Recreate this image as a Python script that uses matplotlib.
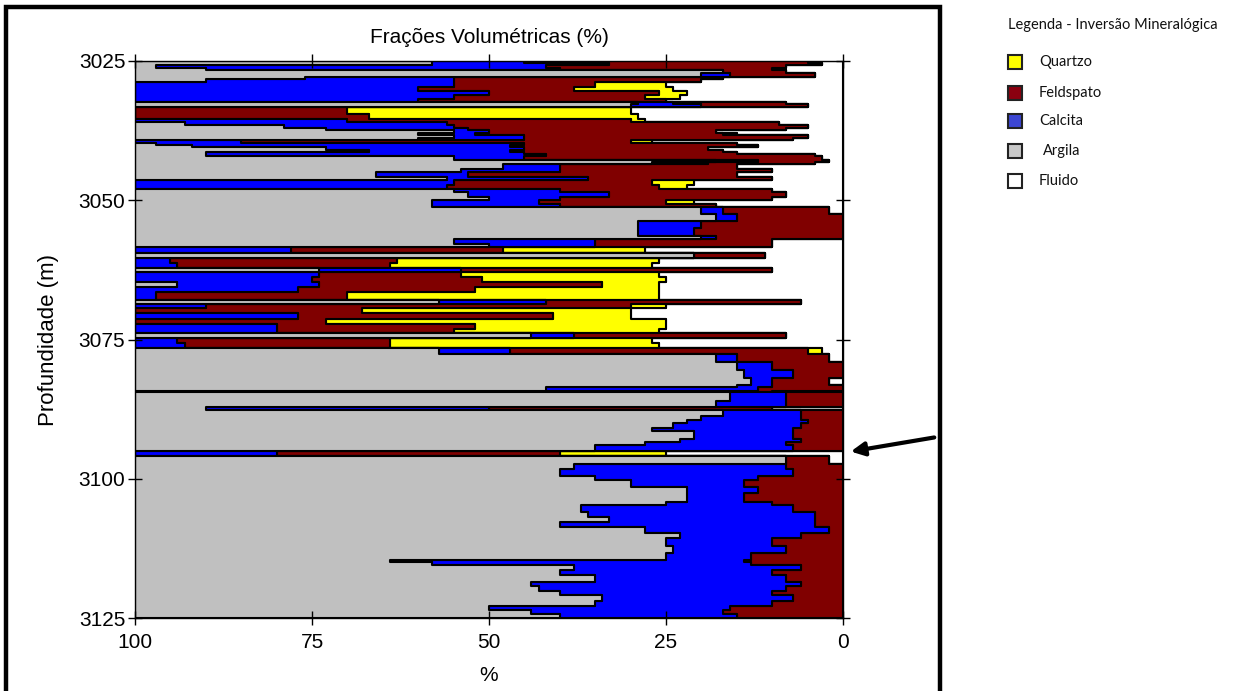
import numpy as np
import matplotlib.pyplot as plt
from matplotlib.patches import Rectangle

# camadas lidas do perfil: topo (m), fluido, quartzo, feldspato, calcita, argila (%)
# a ultima camada vai ate 3125
topo = [3025.0, 3025.4, 3025.7, 3026.2, 3026.6, 3027.2, 3027.8, 3028.3, 3028.8, 3029.6,
        3030.3, 3031.1, 3031.9, 3032.3, 3032.8, 3033.3, 3034.6, 3035.4, 3035.9, 3036.5,
        3037.0, 3037.4, 3037.9, 3038.3, 3038.8, 3039.2, 3039.8, 3040.1, 3040.4, 3040.9,
        3041.3, 3041.7, 3042.1, 3042.8, 3043.2, 3043.5, 3044.3, 3045.0, 3045.9, 3046.4,
        3047.2, 3047.9, 3048.6, 3049.4, 3050.0, 3050.6, 3051.2, 3052.5, 3053.7, 3055.0,
        3056.5, 3056.9, 3057.8, 3058.4, 3059.4, 3060.4, 3061.3, 3062.2, 3062.9, 3063.8,
        3064.6, 3065.5, 3066.5, 3067.9, 3068.7, 3069.3, 3070.3, 3071.3, 3072.3, 3073.1,
        3073.9, 3074.8, 3075.7, 3076.6, 3077.6, 3079.0, 3080.5, 3082.0, 3083.2, 3083.6,
        3084.2, 3084.5, 3086.0, 3087.2, 3087.6, 3088.8, 3089.4, 3090.0, 3090.8, 3091.5,
        3092.8, 3093.4, 3094.0, 3095.0, 3095.9, 3097.3, 3098.2, 3099.5, 3100.3, 3101.5,
        3102.5, 3104.1, 3104.7, 3105.9, 3106.8, 3107.7, 3108.6, 3109.7, 3110.7, 3112.0,
        3113.3, 3114.6, 3115.0, 3115.5, 3116.4, 3117.3, 3118.5, 3119.3, 3120.2, 3120.9,
        3122.0, 3122.8, 3123.5, 3124.3]
base = 3125.0

fluido = [5, 3, 8, 10, 8, 4, 17, 20, 25, 24,
          22, 23, 25, 8, 5, 30, 29, 28, 9, 5,
          8, 18, 15, 5, 7, 27, 15, 12, 19, 17,
          15, 4, 3, 2, 4, 15, 10, 15, 10, 21,
          22, 10, 8, 10, 21, 18, 2, 0, 0, 0,
          0, 10, 10, 28, 11, 26, 27, 10, 26, 25,
          26, 26, 26, 6, 25, 30, 30, 25, 25, 26,
          8, 27, 26, 3, 2, 0, 0, 2, 0, 0,
          10, 0, 0, 10, 0, 0, 0, 0, 0, 0,
          0, 0, 0, 25, 2, 0, 0, 0, 0, 0,
          0, 0, 0, 0, 0, 0, 0, 0, 0, 0,
          0, 0, 0, 0, 0, 0, 0, 0, 0, 0,
          0, 0, 0, 0]
quartzo = [0, 0, 0, 0, 0, 0, 0, 0, 10, 14,
           4, 5, 0, 0, 0, 40, 38, 2, 0, 0,
           0, 0, 2, 0, 0, 3, 0, 0, 0, 0,
           0, 0, 0, 0, 0, 0, 0, 0, 0, 6,
           4, 0, 0, 0, 4, 0, 0, 0, 0, 0,
           0, 0, 0, 20, 0, 37, 37, 0, 28, 26,
           8, 26, 44, 0, 5, 38, 11, 48, 27, 29,
           0, 37, 38, 2, 0, 0, 0, 0, 0, 0,
           0, 0, 0, 0, 0, 0, 0, 0, 0, 0,
           0, 0, 0, 15, 0, 0, 0, 0, 0, 0,
           0, 0, 0, 0, 0, 0, 0, 0, 0, 0,
           0, 0, 0, 0, 0, 0, 0, 0, 0, 0,
           0, 0, 0, 0]
feldspato = [40, 30, 34, 30, 9, 12, 38, 35, 20, 22,
             24, 27, 35, 16, 15, 30, 33, 40, 47, 50,
             45, 32, 35, 40, 38, 55, 30, 35, 26, 30,
             30, 38, 42, 10, 15, 25, 30, 38, 26, 28,
             30, 30, 25, 30, 18, 22, 15, 15, 20, 21,
             18, 25, 25, 30, 10, 32, 30, 44, 20, 24,
             40, 25, 27, 36, 60, 32, 36, 27, 28, 25,
             30, 30, 29, 42, 13, 10, 7, 8, 10, 12,
             45, 8, 8, 40, 6, 6, 5, 6, 7, 7,
             6, 8, 7, 40, 6, 8, 7, 12, 14, 12,
             14, 10, 7, 4, 4, 4, 2, 6, 10, 8,
             13, 14, 13, 6, 10, 8, 6, 8, 10, 7,
             10, 16, 17, 15]
calcita = [13, 25, 55, 50, 0, 4, 21, 35, 45, 40,
           50, 45, 40, 5, 10, 0, 0, 30, 37, 24,
           20, 5, 8, 10, 15, 15, 52, 45, 28, 20,
           45, 48, 10, 6, 8, 8, 14, 13, 20, 45,
           44, 15, 20, 10, 15, 18, 3, 3, 9, 8,
           2, 20, 15, 22, 0, 5, 6, 20, 26, 25,
           20, 23, 3, 15, 10, 0, 23, 0, 20, 20,
           6, 6, 7, 10, 3, 5, 7, 3, 5, 30,
           45, 8, 10, 40, 11, 14, 17, 18, 20, 14,
           17, 20, 28, 20, 0, 30, 33, 23, 16, 10,
           8, 15, 30, 32, 29, 36, 26, 17, 15, 16,
           12, 50, 45, 32, 30, 27, 38, 35, 30, 27,
           25, 34, 27, 25]
argila = [42, 42, 3, 10, 83, 80, 24, 10, 0, 0,
          0, 0, 0, 71, 70, 0, 0, 0, 7, 21,
          27, 45, 40, 45, 40, 0, 3, 8, 27, 33,
          10, 10, 45, 82, 73, 52, 46, 34, 44, 0,
          0, 45, 47, 50, 42, 42, 80, 82, 71, 71,
          80, 45, 50, 0, 79, 0, 0, 26, 0, 0,
          6, 0, 0, 43, 0, 0, 0, 0, 0, 0,
          56, 0, 0, 43, 82, 85, 86, 87, 85, 58,
          0, 84, 82, 10, 83, 80, 78, 76, 73, 79,
          77, 72, 65, 0, 92, 62, 60, 65, 70, 78,
          78, 75, 63, 64, 67, 60, 72, 77, 75, 76,
          75, 36, 42, 62, 60, 65, 56, 57, 60, 66,
          65, 50, 56, 60]

nomes = ["Quartzo", "Feldspato", "Calcita", "Argila", "Fluido"]
cores_leg = ["#ffff00", "#8b0010", "#3c46d2", "#c8c8c8", "#ffffff"]

fonte = ["Liberation Sans Narrow", "Liberation Sans", "DejaVu Sans"]

fig = plt.figure(figsize=(12.43, 6.91), dpi=100)
ax = fig.add_axes([135 / 1243, 1 - 618 / 691, (843 - 135) / 1243, (618 - 61) / 691])

# empilhamento a partir de 0 (direita): fluido, quartzo, feldspato, calcita, argila
y = np.array(topo + [base])
camadas = [fluido, quartzo, feldspato, calcita, argila]
cores = ["#ffffff", "#ffff00", "#800000", "#0000ff", "#c0c0c0"]
esq = np.zeros(len(topo))
for vals, cor in zip(camadas, cores):
    dir_ = esq + np.array(vals, dtype=float)
    ax.fill_betweenx(y, np.append(esq, esq[-1]), np.append(dir_, dir_[-1]),
                     step="post", facecolor=cor, edgecolor="black", linewidth=1.5)
    esq = dir_

ax.set_xlim(100, 0)
ax.set_ylim(3125, 3025)
ax.set_xticks([100, 75, 50, 25, 0])
ax.set_yticks([3025, 3050, 3075, 3100, 3125])
ax.tick_params(axis="both", direction="inout", length=10, width=1, top=True, right=True,
               labeltop=False, labelright=False, labelsize=15, pad=2)
ax.tick_params(axis="x", pad=6)
for lab in ax.get_xticklabels() + ax.get_yticklabels():
    lab.set_family(fonte)
for s in ax.spines.values():
    s.set_color("black")
    s.set_linewidth(1)

ax.set_title("Frações Volumétricas (%)", fontsize=15, family=fonte, pad=13)
ax.set_xlabel("%", fontsize=15, family=fonte, labelpad=10)
ax.set_ylabel("Profundidade (m)", fontsize=16, family=fonte, labelpad=14)

# moldura preta
fig.patches.append(Rectangle((6 / 1243, -0.02), (940 - 6) / 1243, 1.02 - 7 / 691,
                             transform=fig.transFigure, fill=False,
                             edgecolor="black", linewidth=3.2))

# legenda
fig.text(1008 / 1243, 1 - 25 / 691, "Legenda - Inversão Mineralógica", fontsize=10.5,
         family=["Lato", "DejaVu Sans"], va="center", ha="left", color="#111111")
ys = [62, 93, 121, 151, 181]
for nome, cor, yy in zip(nomes, cores_leg, ys):
    fig.patches.append(Rectangle((1008 / 1243, 1 - (yy + 7) / 691), 14 / 1243, 14 / 691,
                                 transform=fig.transFigure, facecolor=cor,
                                 edgecolor="#222222", linewidth=1.5))
    dx = 4 if nome == "Argila" else 0
    fig.text((1039 + dx) / 1243, 1 - yy / 691, nome, fontsize=10.5,
             family=["Lato", "DejaVu Sans"], va="center", ha="left", color="#111111")

# seta
fig.add_artist(plt.Annotation("", xy=(848 / 1243, 1 - 452 / 691), xycoords="figure fraction",
                              xytext=(937 / 1243, 1 - 437 / 691), textcoords="figure fraction",
                              arrowprops=dict(arrowstyle="-|>", color="black", lw=3,
                                              mutation_scale=20)))

fig.savefig("out.png", dpi=100)
